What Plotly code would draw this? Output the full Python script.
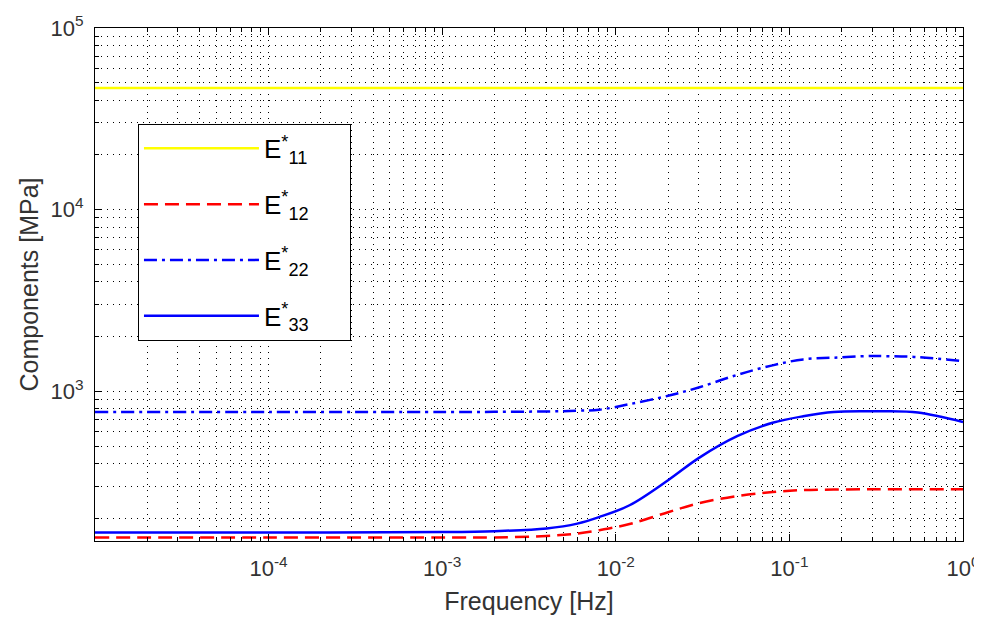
import plotly.graph_objects as go

# Frequency grid [Hz]
freq = [1e-5, 1e-4, 1e-3, 2e-3, 4e-3, 6e-3, 8e-3, 1.2e-2, 2e-2, 3e-2,
        5e-2, 8e-2, 0.12, 0.18, 0.28, 0.35, 0.55, 1.0]

# Components [MPa]
E11 = [46800] * len(freq)
E12 = [157, 157, 157, 157, 160, 165, 172, 186, 216, 242,
       265, 279, 286, 288, 289, 289, 289, 289]
E22 = [770, 770, 770, 771, 775, 782, 792, 850, 945, 1050,
       1232, 1390, 1499, 1532, 1563, 1563, 1543, 1467]
E33 = [167, 167, 168, 170, 176, 187, 203, 236, 324, 429,
       566, 671, 729, 770, 777, 777, 764, 678]

pad = "&nbsp;" * 5
names = ["E<sup>*</sup><sub>11</sub>" + pad, "E<sup>*</sup><sub>12</sub>" + pad,
         "E<sup>*</sup><sub>22</sub>" + pad, "E<sup>*</sup><sub>33</sub>" + pad]

x_major = [1e-5, 1e-4, 1e-3, 1e-2, 1e-1, 1e0]
x_major_text = ["", "10<sup>-4</sup>", "10<sup>-3</sup>", "10<sup>-2</sup>",
                "10<sup>-1</sup>", "10<sup>0</sup>"]
y_major = [1e3, 1e4, 1e5]
y_major_text = ["10<sup>3</sup>", "10<sup>4</sup>", "10<sup>5</sup>"]

x_minor = [m * 10.0 ** k for k in range(-5, 0) for m in range(2, 10)]
y_minor = [m * 10.0 ** k for k in range(2, 5) for m in range(2, 10) if m * 10.0 ** k >= 150]

fig = go.Figure()
styles = [
    dict(color="#ffff00", width=2.5, dash="solid"),
    dict(color="#ff0000", width=2.5, dash="14px,7px"),
    dict(color="#0000ff", width=2.5, dash="13px,5px,3px,5px"),
    dict(color="#0000ff", width=2.5, dash="solid"),
]
for i, (vals, nm) in enumerate(zip([E11, E12, E22, E33], names)):
    fig.add_trace(go.Scatter(x=freq, y=vals, mode="lines", name=nm,
                             line=dict(shape="spline", **styles[i]),
                             legendgroup="g%d" % i))

font_family = "Liberation Sans, Arial, sans-serif"
axis_common = dict(
    type="log", showline=True, linecolor="black", linewidth=1, mirror="allticks",
    ticks="inside", ticklen=7, tickcolor="black", automargin=False,
    showgrid=True, gridcolor="black", gridwidth=1, griddash="1px,5px",
    zeroline=False, tickfont=dict(family=font_family, size=22, color="#333333"),
)
fig.update_xaxes(range=[-5, 0], tickmode="array", tickvals=x_major, ticktext=x_major_text,
                 ticklabelstandoff=8,
                 minor=dict(tickmode="array", tickvals=x_minor, ticks="inside", ticklen=4,
                            tickcolor="black", showgrid=True, gridcolor="black",
                            griddash="1px,5px", gridwidth=1),
                 title=dict(text="Frequency [Hz]", font=dict(family=font_family, size=25, color="#333333"),
                            standoff=12),
                 **axis_common)
fig.update_yaxes(range=[2.1761, 5], tickmode="array", tickvals=y_major, ticktext=y_major_text,
                 ticklabelstandoff=6,
                 minor=dict(tickmode="array", tickvals=y_minor, ticks="inside", ticklen=4,
                            tickcolor="black", showgrid=True, gridcolor="black",
                            griddash="1px,5px", gridwidth=1),
                 title=dict(text="Components [MPa]", font=dict(family=font_family, size=25, color="#333333"),
                            standoff=4),
                 **axis_common)

# page body has an 8px margin: size/margins compensate so the plot area lands where the reference has it
fig.update_layout(
    width=974, height=614,
    margin=dict(l=87, r=19, t=20, b=81),
    paper_bgcolor="white", plot_bgcolor="white",
    showlegend=True,
    legend=dict(x=0.0495, y=0.813, xanchor="left", yanchor="top",
                bgcolor="white", bordercolor="black", borderwidth=1,
                font=dict(family=font_family, size=26, color="black"),
                itemwidth=115, tracegroupgap=19),
)

fig.write_html("out.html")
